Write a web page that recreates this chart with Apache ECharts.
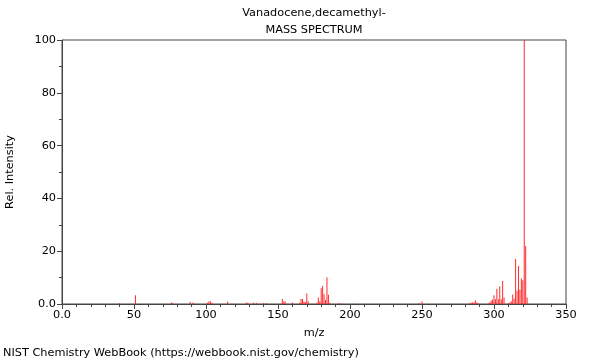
<!DOCTYPE html>
<html>
<head>
<meta charset="utf-8">
<script src="https://cdn.jsdelivr.net/npm/echarts@6/dist/echarts.min.js"></script>
<style>html,body{margin:0;padding:0;background:#fff;}#c{width:600px;height:360px;}</style>
</head>
<body>
<div id="c"></div>
<script>
const titleLines = ["Vanadocene,decamethyl-", "MASS SPECTRUM"];
const footer = "NIST Chemistry WebBook (https://webbook.nist.gov/chemistry)";
const mz =        [40, 51, 76, 77, 89, 91, 101, 102, 103, 104, 115, 128, 129, 133, 135, 140, 142, 153, 154, 155, 160, 165, 166, 167, 168, 169, 170, 171, 177, 178, 179, 180, 181, 182, 183, 184, 185, 186, 192, 193, 203, 248, 250, 283, 284, 285, 286, 287, 288, 289, 296, 297, 298, 299, 300, 301, 302, 303, 304, 305, 306, 307, 310, 311, 312, 313, 314, 315, 316, 317, 318, 319, 320, 321, 322, 323];
const intensity = [0.3, 3.3, 0.6, 0.4, 0.8, 0.6, 0.5, 0.9, 1.0, 0.5, 0.9, 0.6, 0.5, 0.5, 0.5, 0.4, 0.3, 1.9, 0.9, 0.9, 0.6, 0.5, 1.9, 1.9, 0.9, 0.8, 4.0, 1.0, 0.5, 2.5, 1.0, 6.0, 6.9, 3.7, 1.5, 10.1, 3.5, 0.5, 0.2, 0.3, 0.2, 0.3, 0.9, 0.3, 0.5, 0.6, 0.6, 1.4, 0.6, 0.4, 0.3, 0.6, 1.2, 1.7, 3.3, 1.8, 5.8, 1.8, 6.7, 1.8, 8.7, 2.5, 0.3, 0.6, 1.0, 3.6, 2.0, 17.0, 5.0, 14.4, 5.5, 9.7, 9.0, 100, 22, 2.5];
const xTicks = {min: 0, max: 350, interval: 50};
const yTicks = {min: 0, max: 100, interval: 20};

const chart = echarts.init(document.getElementById('c'), null, {renderer: 'canvas'});
const font = 'DejaVu Sans';
const fs = 11.3;
const fontStr = fs + 'px "DejaVu Sans"';
const fmt = v => v === 0 ? '0.0' : String(v);
chart.setOption({
  animation: false,
  backgroundColor: '#fff',
  textStyle: {fontFamily: font},
  graphic: [
    {type: 'text', x: 314, y: 13, style: {text: titleLines[0], font: fontStr, fill: '#000', textAlign: 'center', textVerticalAlign: 'middle'}},
    {type: 'text', x: 314, y: 30, style: {text: titleLines[1], font: fontStr, fill: '#000', textAlign: 'center', textVerticalAlign: 'middle'}},
    {type: 'text', x: 3, y: 353, style: {text: footer, font: fontStr, fill: '#000', textAlign: 'left', textVerticalAlign: 'middle'}}
  ],
  grid: {left: 62, right: 34, top: 40, bottom: 56, containLabel: false, outerBoundsMode: 'none', show: true, borderColor: '#444', borderWidth: 1, backgroundColor: 'transparent'},
  xAxis: {
    type: 'value', min: xTicks.min, max: xTicks.max, interval: xTicks.interval,
    name: 'm/z', nameLocation: 'middle', nameGap: 24,
    nameTextStyle: {fontSize: fs, color: '#000', fontFamily: font},
    axisLine: {show: true, onZero: false, lineStyle: {color: '#444', width: 1}},
    axisTick: {show: true, inside: false, length: 5, lineStyle: {color: '#444'}},
    minorTick: {show: true, splitNumber: 5, length: 3, lineStyle: {color: '#444'}},
    splitLine: {show: false},
    axisLabel: {fontSize: fs, color: '#000', margin: 6, formatter: fmt, fontFamily: font}
  },
  yAxis: {
    type: 'value', min: yTicks.min, max: yTicks.max, interval: yTicks.interval,
    name: 'Rel. Intensity', nameLocation: 'middle', nameGap: 46, nameRotate: 90,
    nameTextStyle: {fontSize: fs, color: '#000', fontFamily: font},
    axisLine: {show: true, lineStyle: {color: '#444', width: 1}},
    axisTick: {show: true, inside: false, length: 5, lineStyle: {color: '#444'}},
    minorTick: {show: true, splitNumber: 2, length: 3, lineStyle: {color: '#444'}},
    splitLine: {show: false},
    axisLabel: {fontSize: fs, color: '#000', margin: 6, formatter: fmt, fontFamily: font}
  },
  series: [{
    type: 'bar',
    barWidth: 1,
    data: mz.map((m, i) => [m, intensity[i]]),
    itemStyle: {color: '#ff2a2a'},
    silent: true
  }]
});
</script>
</body>
</html>
